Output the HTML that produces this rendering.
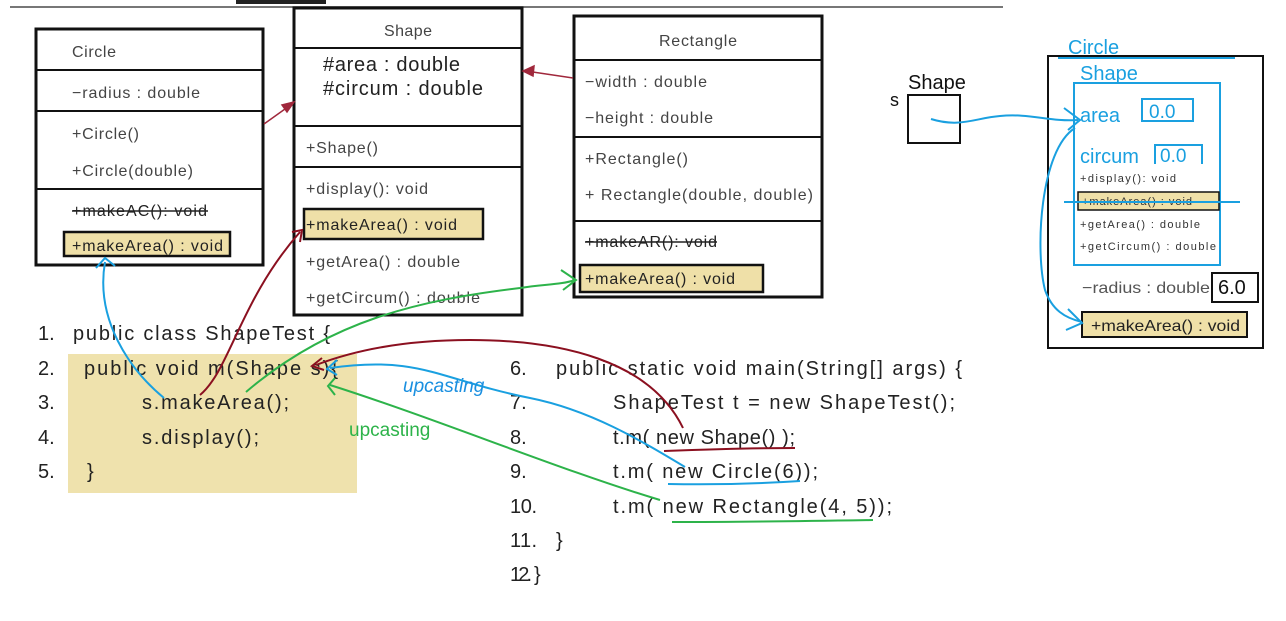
<!DOCTYPE html>
<html><head><meta charset="utf-8"><style>
html,body{margin:0;padding:0;background:#fff;width:1286px;height:621px;overflow:hidden}
svg{display:block}
text{font-family:"Liberation Sans","Noto Sans CJK KR",sans-serif}
</style></head><body>
<svg width="1286" height="621" viewBox="0 0 1286 621" xmlns="http://www.w3.org/2000/svg">
<line x1="10" y1="7" x2="1003" y2="7" stroke="#777" stroke-width="2"/>
<rect x="236" y="0" width="90" height="4" fill="#222"/>

<!-- Circle class -->
<g fill="none" stroke="#111">
<rect x="36" y="29" width="227" height="236" stroke-width="3"/>
<line x1="36" y1="70" x2="263" y2="70" stroke-width="2"/>
<line x1="36" y1="111" x2="263" y2="111" stroke-width="2"/>
<line x1="36" y1="189" x2="263" y2="189" stroke-width="2"/>
</g>
<rect x="64" y="232" width="166" height="24" fill="#efe0a8" stroke="#111" stroke-width="2.5"/>
<g font-size="16" fill="#444" lengthAdjust="spacingAndGlyphs">
<text x="72" y="57" textLength="44">Circle</text>
<text x="72" y="98" textLength="128">−radius : double</text>
<text x="72" y="139" textLength="67">+Circle()</text>
<text x="72" y="176" textLength="121">+Circle(double)</text>
<text x="72" y="216" fill="#222" textLength="135">+makeAC(): void</text>
<text x="72" y="251" fill="#222" textLength="151">+makeArea() : void</text>
</g>
<line x1="72" y1="211" x2="208" y2="211" stroke="#222" stroke-width="1.5"/>

<!-- Shape class -->
<g fill="none" stroke="#111">
<rect x="294" y="8" width="228" height="307" stroke-width="3"/>
<line x1="294" y1="48" x2="522" y2="48" stroke-width="2"/>
<line x1="294" y1="126" x2="522" y2="126" stroke-width="2"/>
<line x1="294" y1="167" x2="522" y2="167" stroke-width="2"/>
</g>
<rect x="304" y="209" width="179" height="30" fill="#efe0a8" stroke="#111" stroke-width="2.5"/>
<g font-size="16" fill="#444" lengthAdjust="spacingAndGlyphs">
<text x="384" y="36" textLength="48">Shape</text>
<text x="323" y="71" font-size="20" fill="#222" textLength="137">#area : double</text>
<text x="323" y="95" font-size="20" fill="#222" textLength="160">#circum : double</text>
<text x="306" y="153" textLength="72">+Shape()</text>
<text x="306" y="194" textLength="122">+display(): void</text>
<text x="306" y="230" fill="#222" textLength="151">+makeArea() : void</text>
<text x="306" y="267" textLength="154">+getArea() : double</text>
<text x="306" y="303" textLength="174">+getCircum() : double</text>
</g>

<!-- Rectangle class -->
<g fill="none" stroke="#111">
<rect x="574" y="16" width="248" height="281" stroke-width="3"/>
<line x1="574" y1="60" x2="822" y2="60" stroke-width="2"/>
<line x1="574" y1="137" x2="822" y2="137" stroke-width="2"/>
<line x1="574" y1="221" x2="822" y2="221" stroke-width="2"/>
</g>
<rect x="580" y="265" width="183" height="27" fill="#efe0a8" stroke="#111" stroke-width="2.5"/>
<g font-size="16" fill="#444" lengthAdjust="spacingAndGlyphs">
<text x="659" y="46" textLength="78">Rectangle</text>
<text x="585" y="87" textLength="122">−width : double</text>
<text x="585" y="123" textLength="128">−height : double</text>
<text x="585" y="164" textLength="103">+Rectangle()</text>
<text x="585" y="200" textLength="228">+ Rectangle(double, double)</text>
<text x="585" y="247" fill="#222" textLength="132">+makeAR(): void</text>
<text x="585" y="284" fill="#222" textLength="150">+makeArea() : void</text>
</g>
<line x1="585" y1="242" x2="717" y2="242" stroke="#222" stroke-width="1.5"/>

<!-- inheritance arrows -->
<g stroke="#a0283c" stroke-width="1.5" fill="#a0283c">
<line x1="264" y1="124" x2="292" y2="104"/>
<polygon points="294,102 282,105 287,112"/>
<line x1="573" y1="78" x2="526" y2="71"/>
<polygon points="523,71 534,66 533,76"/>
</g>

<!-- code left -->
<rect x="68" y="354" width="289" height="139" fill="#efe2ad"/>
<g font-size="20" fill="#222" lengthAdjust="spacingAndGlyphs">
<text x="38" y="340">1.</text><text x="73" y="340" textLength="257">public class ShapeTest {</text>
<text x="38" y="375">2.</text><text x="84" y="375" textLength="254">public void m(Shape s){</text>
<text x="38" y="409">3.</text><text x="142" y="409" textLength="147">s.makeArea();</text>
<text x="38" y="444">4.</text><text x="142" y="444" textLength="117">s.display();</text>
<text x="38" y="478">5.</text><text x="87" y="478">}</text>
</g>
<!-- code right -->
<g font-size="20" fill="#222" lengthAdjust="spacingAndGlyphs">
<text x="510" y="375">6.</text><text x="556" y="375" textLength="406">public static void main(String[] args) {</text>
<text x="510" y="409">7.</text><text x="613" y="409" textLength="342">ShapeTest t = new ShapeTest();</text>
<text x="510" y="444">8.</text><text x="613" y="444" textLength="182">t.m( new Shape() );</text>
<text x="510" y="478">9.</text><text x="613" y="478" textLength="205">t.m( new Circle(6));</text>
<text x="510" y="513" textLength="27">10.</text><text x="613" y="513" textLength="279">t.m( new Rectangle(4, 5));</text>
<text x="510" y="547" textLength="27">11.</text><text x="556" y="547">}</text>
<text x="510" y="581" textLength="22">12.</text><text x="534" y="581">}</text>
</g>

<!-- annotations -->
<g fill="none" stroke-width="2">
<path d="M164 398 C130 370 95 320 105 262" stroke="#1aa0e0"/>
<path d="M96 268 L105 258 L115 266" stroke="#1aa0e0"/>
<path d="M200 395 C230 370 240 300 300 232" stroke="#8b1020"/>
<path d="M292 232 L302 230 L300 242" stroke="#8b1020"/>
<path d="M246 392 C330 320 420 300 520 288 C545 284 560 285 575 280" stroke="#2db34a"/>
<path d="M561 270 L576 280 L563 290" stroke="#2db34a"/>
<path d="M683 428 C650 360 560 340 470 340 C400 340 350 352 316 365" stroke="#8b1020"/>
<path d="M322 358 L312 366 L324 370" stroke="#8b1020"/>
<path d="M685 467 C640 440 590 410 530 398 C440 380 420 355 330 368" stroke="#1aa0e0"/>
<path d="M337 360 L327 369 L337 375" stroke="#1aa0e0"/>
<path d="M660 500 C560 470 440 420 330 385" stroke="#2db34a"/>
<path d="M335 378 L328 386 L335 395" stroke="#2db34a"/>
<path d="M664 451 C720 449 760 448 795 448" stroke="#8b1020"/>
<path d="M668 484 C720 485 770 483 800 481" stroke="#1aa0e0"/>
<path d="M672 522 C750 522 810 521 873 520" stroke="#2db34a"/>
</g>
<text x="403" y="392" font-size="19" fill="#1a8fe0" font-style="italic">upcasting</text>
<text x="349" y="436" font-size="19" fill="#2db34a">upcasting</text>

<!-- memory diagram -->
<text x="908" y="89" font-size="20" fill="#111">Shape</text>
<text x="890" y="106" font-size="18" fill="#111">s</text>
<rect x="908" y="95" width="52" height="48" fill="none" stroke="#111" stroke-width="2"/>
<rect x="1048" y="56" width="215" height="292" fill="none" stroke="#111" stroke-width="2"/>
<text x="1068" y="54" font-size="20" fill="#1aa0e0">Circle</text>
<line x1="1058" y1="58" x2="1235" y2="58" stroke="#1aa0e0" stroke-width="2"/>
<text x="1080" y="80" font-size="20" fill="#1aa0e0">Shape</text>
<rect x="1074" y="83" width="146" height="182" fill="none" stroke="#1aa0e0" stroke-width="2"/>
<text x="1080" y="122" font-size="20" fill="#1aa0e0">area</text>
<rect x="1142" y="99" width="51" height="22" fill="none" stroke="#1aa0e0" stroke-width="2"/>
<text x="1149" y="118" font-size="19" fill="#1aa0e0">0.0</text>
<text x="1080" y="163" font-size="20" fill="#1aa0e0">circum</text>
<path d="M1155 164 V145 H1202 V164" fill="none" stroke="#1aa0e0" stroke-width="2"/>
<text x="1160" y="162" font-size="19" fill="#1aa0e0">0.0</text>
<g font-size="11" fill="#333" lengthAdjust="spacingAndGlyphs">
<text x="1080" y="182" textLength="96">+display(): void</text>
<rect x="1078" y="192" width="141" height="18" fill="#efe0a8" stroke="#111" stroke-width="1.5"/>
<text x="1082" y="205" textLength="110">+makeArea() : void</text>
<text x="1080" y="228" textLength="120">+getArea() : double</text>
<text x="1080" y="250" textLength="136">+getCircum() : double</text>
</g>
<line x1="1064" y1="202" x2="1240" y2="202" stroke="#1aa0e0" stroke-width="2"/>
<text x="1082" y="293" font-size="16" fill="#555" textLength="128" lengthAdjust="spacingAndGlyphs">−radius : double</text>
<rect x="1212" y="273" width="46" height="29" fill="#fff" stroke="#111" stroke-width="2"/>
<text x="1218" y="294" font-size="20" fill="#111">6.0</text>
<rect x="1082" y="312" width="165" height="25" fill="#efe0a8" stroke="#111" stroke-width="2"/>
<text x="1091" y="331" font-size="16" fill="#222" textLength="149" lengthAdjust="spacingAndGlyphs">+makeArea() : void</text>
<g fill="none" stroke="#1aa0e0" stroke-width="2">
<path d="M931 119 C960 128 975 118 1000 116 C1030 113 1050 122 1078 120"/>
<path d="M1064 108 L1080 120 L1068 130"/>
<path d="M1075 128 C1040 150 1035 250 1045 290 C1052 310 1065 318 1082 322"/>
<path d="M1068 309 L1082 323 L1066 330"/>
</g>
</svg>
</body></html>
